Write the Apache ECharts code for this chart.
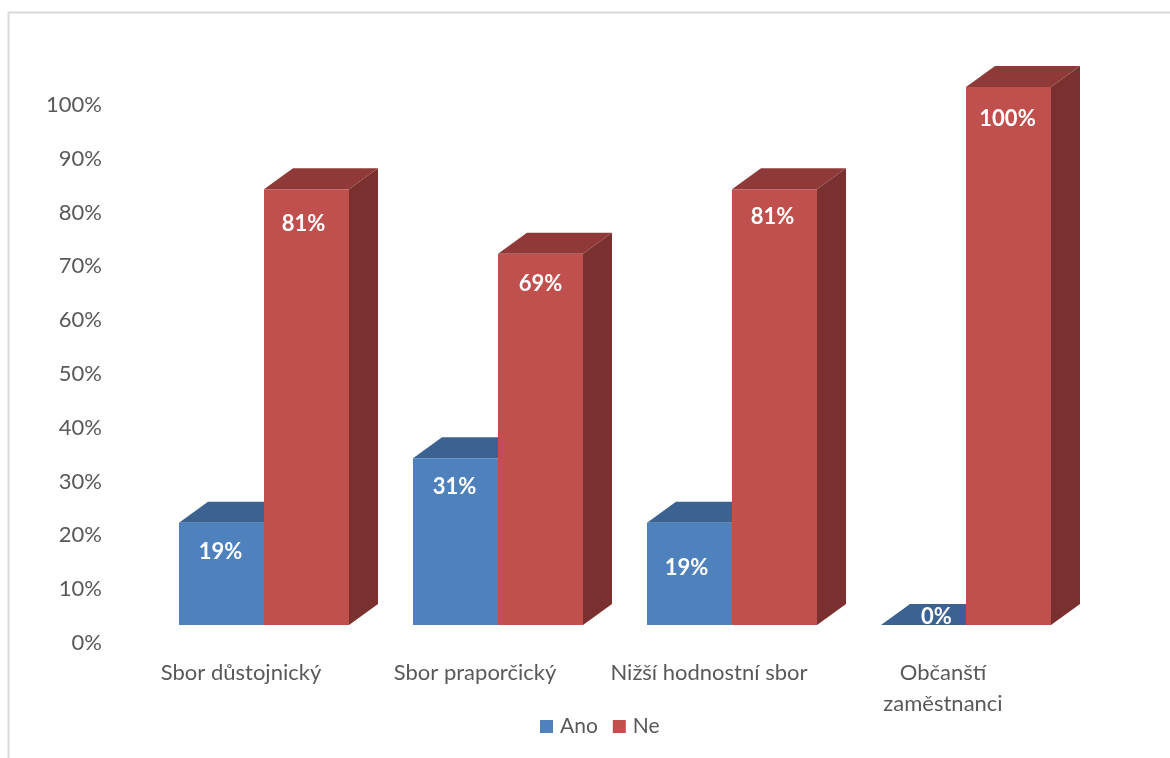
<!DOCTYPE html>
<html><head><meta charset="utf-8">
<style>html,body{margin:0;padding:0;background:#fff}#c{width:1170px;height:758px}</style>
<script src="https://cdn.jsdelivr.net/npm/echarts@6/dist/echarts.min.js"></script>
</head><body><div id="c"></div>
<script>
const categories = ['Sbor důstojnický', 'Sbor praporčický', 'Nižší hodnostní sbor', 'Občanští\nzaměstnanci'];
const ano = [19, 31, 19, 0];
const ne = [81, 69, 81, 100];
const tickFormat = '{value}%';

// Styling only: hand-placed label offsets in the reference (dx from face centre, dy from face top)
const anoLabelOffset = [[-1, 29], [-1, 29], [-3, 45], [13, -8]];
const neLabelOffset = [[-3, 35], [0, 30], [-2, 28], [-1, 32]];
const FONT = 'Lato, "Open Sans", sans-serif';
const SHIFT_X = 23, SHIFT_Y = -18, DEPTH_X = 29, DEPTH_Y = 21, BAR_FRAC = 85 / 234;

function bar3d(colors, side, offsets) {
  return function (params, api) {
    const i = api.value(0), v = api.value(1);
    const top = api.coord([i, v]), base = api.coord([i, 0]);
    const w = api.size([1, 0])[0] * BAR_FRAC;
    const cx = top[0] + SHIFT_X;
    const x0 = side < 0 ? cx - w : cx, x1 = x0 + w;
    const yT = top[1] + SHIFT_Y, yB = base[1] + SHIFT_Y;
    const off = offsets[i];
    const poly = (points, fill) => ({ type: 'polygon', shape: { points }, style: { fill } });
    return {
      type: 'group',
      children: [
        poly([[x1, yB], [x1 + DEPTH_X, yB - DEPTH_Y], [x1 + DEPTH_X, yT - DEPTH_Y], [x1, yT]], colors.side),
        poly([[x0, yT], [x0 + DEPTH_X, yT - DEPTH_Y], [x1 + DEPTH_X, yT - DEPTH_Y], [x1, yT]], colors.top),
        { type: 'rect', shape: { x: x0, y: yT, width: w, height: yB - yT }, style: { fill: colors.front } },
        { type: 'text', style: {
            x: (x0 + x1) / 2 + off[0], y: yT + off[1], text: v + '%',
            fill: '#fff', font: 'bold 22px ' + FONT, align: 'center', verticalAlign: 'middle' } }
      ]
    };
  };
}
const blue = { front: '#4F81BD', top: '#3B6291', side: '#2F4E74' };
const red = { front: '#C0504D', top: '#8F3A38', side: '#7A302E' };

const chart = echarts.init(document.getElementById('c'), null, { renderer: 'canvas' });
chart.setOption({
  animation: false,
  backgroundColor: '#fff',
  textStyle: { fontFamily: FONT },
  grid: { left: 124, right: 110, top: 105, bottom: 115 },
  legend: {
    left: 535, top: 711, icon: 'rect', itemWidth: 13, itemHeight: 13, itemGap: 15,
    textStyle: { color: '#595959', fontSize: 21, fontFamily: FONT, padding: [0, 0, 0, 2] },
    data: ['Ano', 'Ne']
  },
  xAxis: {
    type: 'category', data: categories,
    axisLine: { show: false }, axisTick: { show: false }, splitLine: { show: false },
    axisLabel: { color: '#595959', fontSize: 22, fontFamily: FONT, margin: 14, lineHeight: 31, interval: 0, verticalAlign: 'top' }
  },
  yAxis: {
    type: 'value', min: 0, max: 100, interval: 10,
    axisLine: { show: false }, axisTick: { show: false }, splitLine: { show: false },
    axisLabel: { color: '#595959', fontSize: 22, fontFamily: FONT, formatter: tickFormat, margin: 22, padding: [2, 0, 0, 0] }
  },
  series: [
    { name: 'Ano', type: 'custom', itemStyle: { color: blue.front }, encode: { x: 0, y: 1 },
      data: ano.map((v, i) => [i, v]), renderItem: bar3d(blue, -1, anoLabelOffset) },
    { name: 'Ne', type: 'custom', itemStyle: { color: red.front }, encode: { x: 0, y: 1 },
      data: ne.map((v, i) => [i, v]), renderItem: bar3d(red, 1, neLabelOffset) }
  ],
  graphic: [
    { type: 'polyline', silent: true, shape: { points: [[8.5, 758], [8.5, 12.5], [1170, 12.5]] },
      style: { stroke: '#D9D9D9', lineWidth: 2, fill: 'none' } }
  ]
});
</script></body></html>
